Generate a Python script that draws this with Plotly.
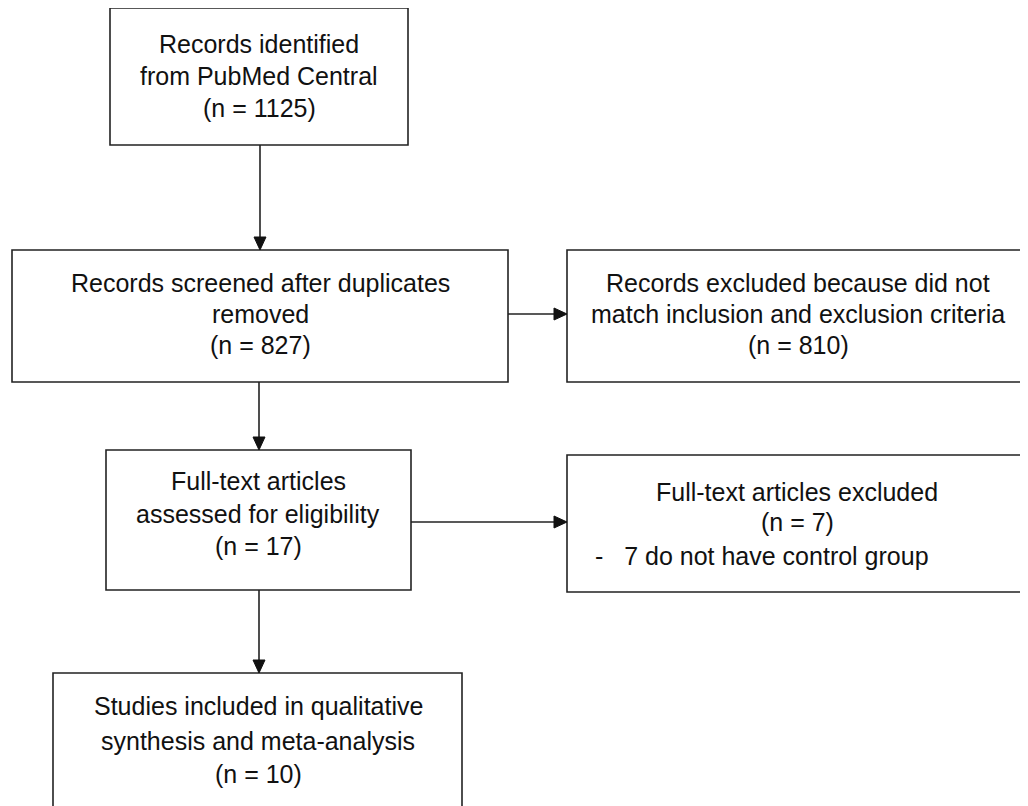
import plotly.graph_objects as go

# ---- content ----
box_titles = [
    ["Records identified", "from PubMed Central"],
    ["Records screened after duplicates", "removed"],
    ["Records excluded because did not", "match inclusion and exclusion criteria"],
    ["Full-text articles", "assessed for eligibility"],
    ["Full-text articles excluded"],
    ["Studies included in qualitative", "synthesis and meta-analysis"],
]
box_counts = [1125, 827, 810, 17, 7, 10]
box_notes = [[], [], [], [], ["-   7 do not have control group"], []]

# ---- layout geometry (pixels, y downward) ----
boxes = [
    dict(x0=110, x1=408, y0=8, y1=145, lines_y=[44, 76, 108]),
    dict(x0=12, x1=508, y0=250, y1=382, lines_y=[283, 314, 345]),
    dict(x0=567, x1=1045, y0=250, y1=382, lines_y=[283, 314, 345]),
    dict(x0=106, x1=411, y0=450, y1=590, lines_y=[481, 514, 546]),
    dict(x0=567, x1=1045, y0=455, y1=592, lines_y=[492, 522, 556]),
    dict(x0=53, x1=462, y0=673, y1=840, lines_y=[706, 741, 774]),
]
text_cx = [259, 260, 798, 258, 797, 258]
note_x = 593
arrows = [  # (x_start, y_start, x_end, y_end)
    (260, 145, 260, 250),
    (508, 314, 567, 314),
    (259, 382, 259, 450),
    (411, 522, 567, 522),
    (259, 590, 259, 673),
]

LINE = "#222222"
FONT = dict(family="Liberation Sans, Arial, sans-serif", size=25, color="#111111")

# page body has an 8px margin; offset the axis ranges so coordinates match the page
OFF = 8

fig = go.Figure()
shapes = []
annotations = []

for i, b in enumerate(boxes):
    shapes.append(dict(type="rect", x0=b["x0"], x1=b["x1"], y0=b["y0"], y1=b["y1"],
                       line=dict(color=LINE, width=1.6), fillcolor="white", layer="below"))
    lines = box_titles[i] + [f"(n = {box_counts[i]})"]
    for j, t in enumerate(lines):
        annotations.append(dict(x=text_cx[i], y=b["lines_y"][j], text=t, showarrow=False,
                                xanchor="center", yanchor="middle", font=FONT))
    for k, t in enumerate(box_notes[i]):
        annotations.append(dict(x=note_x, y=b["lines_y"][len(lines) + k], text=t, showarrow=False,
                                xanchor="left", yanchor="middle", font=FONT))

HL = 13  # head length
HW = 6   # half width
for (xa, ya, xb, yb) in arrows:
    if xa == xb:  # vertical, downward
        shapes.append(dict(type="line", x0=xa, y0=ya, x1=xb, y1=yb - HL,
                           line=dict(color=LINE, width=1.6)))
        shapes.append(dict(type="path",
                           path=f"M {xb-HW} {yb-HL} L {xb+HW} {yb-HL} L {xb} {yb} Z",
                           fillcolor="#111111", line=dict(color="#111111", width=1)))
    else:  # horizontal, rightward
        shapes.append(dict(type="line", x0=xa, y0=ya, x1=xb - HL, y1=yb,
                           line=dict(color=LINE, width=1.6)))
        shapes.append(dict(type="path",
                           path=f"M {xb-HL} {yb-HW} L {xb-HL} {yb+HW} L {xb} {yb} Z",
                           fillcolor="#111111", line=dict(color="#111111", width=1)))

fig.update_layout(
    width=1028, height=806,
    margin=dict(l=0, r=0, t=0, b=0),
    paper_bgcolor="white", plot_bgcolor="white",
    xaxis=dict(range=[OFF, 1028 + OFF], visible=False, fixedrange=True),
    yaxis=dict(range=[806 + OFF, OFF], visible=False, fixedrange=True),
    shapes=shapes, annotations=annotations, showlegend=False,
)

fig.write_html("out.html")
